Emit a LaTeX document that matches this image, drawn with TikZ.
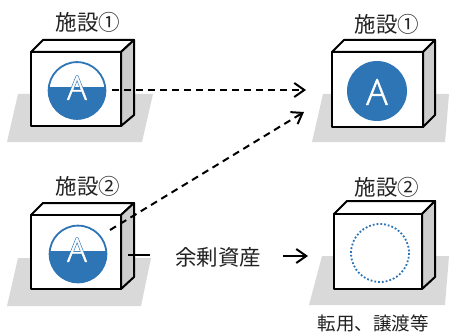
\documentclass[tikz,border=0pt]{standalone}
\usepackage{fontspec}
\usetikzlibrary{arrows.meta}
\setmainfont{Noto Sans CJK JP}
\newfontfamily\latinlight[FakeBold=1.2]{Open Sans Light}
\newfontfamily\latinheavy[FakeBold=5]{Open Sans Light}
\definecolor{wblue}{HTML}{2E75B6}
\definecolor{floorgray}{HTML}{D9D9D9}
\definecolor{sidegray}{HTML}{CDCDCD}
\definecolor{inkdark}{HTML}{222222}
\tikzset{
  x=1pt,y=-1pt,
  boxline/.style={draw=black,line width=2pt,line join=round},
  floorshape/.style={fill=floorgray,draw=none},
  sidefill/.style={fill=sidegray},
  lab/.style={font=\fontsize{21.5}{22}\selectfont,text=inkdark,inner sep=0pt},
  smalllab/.style={font=\fontsize{18.5}{19}\selectfont,text=inkdark,inner sep=0pt},
  dasharrow/.style={draw=black,line width=2pt,dash pattern=on 7pt off 5pt,-{Straight Barb[length=10pt,width=14pt,line width=2pt]}},
  solidarrow/.style={draw=black,line width=2pt,-{Straight Barb[length=10pt,width=14pt,line width=2pt]}},
  alett/.style={inner sep=0pt,text=white,font=\fontsize{33}{33}\selectfont\latinlight},
  aback/.style={inner sep=0pt,text=wblue,font=\fontsize{33}{33}\selectfont\latinheavy},
  abig/.style={inner sep=0pt,text=white,font=\fontsize{36}{36}\selectfont\latinlight},
}
\newcommand{\facility}[8]{% left right top bottom backleft backright backtop backbottom
  \draw[boxline,fill=white] (#1,#3) -- (#5,#7) -- (#6,#7) -- (#2,#3) -- cycle;
  \draw[boxline,sidefill] (#2,#3) -- (#6,#7) -- (#6,#8) -- (#2,#4) -- cycle;
  \draw[boxline,fill=white] (#1,#3) rectangle (#2,#4);
}
\newcommand{\halfdisc}[4]{% cx cy r level
  \begin{scope}
    \clip (#1-#3,#4) rectangle (#1+#3,#2+#3+1);
    \fill[wblue] (#1,#2) circle (#3);
  \end{scope}
  \draw[wblue,line width=1.8pt] (#1,#2) circle (#3-0.6);
}
\begin{document}
\begin{tikzpicture}
\useasboundingbox (0,0) rectangle (449,334);
\fill[white] (0,0) rectangle (449,334);
% floors
\fill[floorshape] (18,94) -- (153,94) -- (142,142) -- (7,142) -- cycle;
\fill[floorshape] (18,258) -- (151,258) -- (141,306) -- (7,306) -- cycle;
\fill[floorshape] (323,94) -- (449,94) -- (445,142) -- (312,142) -- cycle;
\fill[floorshape] (322,256) -- (449,256) -- (445,305) -- (309,305) -- cycle;
% boxes
\facility{31}{121}{52}{126}{43}{134}{40}{115}
\facility{31}{121}{215}{289}{43}{134}{203}{277}
\facility{332}{423}{52}{127}{344}{435}{40}{115}
\facility{334}{422}{214}{289}{347}{435}{201}{277}
% discs
\halfdisc{77}{90.5}{29}{88}
\halfdisc{78}{254}{29}{251}
\fill[wblue] (377,91) circle (30);
\draw[wblue,line width=1.8pt,dash pattern=on 1.8pt off 2pt] (380,253) circle (29);
\node[aback] (a1b) at (77,88) {A};
\node[alett] (a1) at (77,88) {A};
\node[aback] (a2b) at (77,250) {A};
\node[alett] (a2) at (77,250) {A};
\node[abig] (a3) at (377,92) {A};
% labels
\node[lab] (l1) at (88,22) {施設①};
\node[lab] (l2) at (88,186) {施設②};
\node[lab] (l3) at (387,24) {施設①};
\node[lab] (l4) at (387,187) {施設②};
\node[lab] (surplus) at (218,257) {余剰資産};
\node[smalllab] (use) at (373,323) {転用、譲渡等};
% connector ends
\coordinate (s1) at (112,90);
\coordinate (t1) at (306,90);
\coordinate (s2) at (110,230);
\coordinate (t2) at (304,112);
\coordinate (s3) at (128,255);
\coordinate (s3e) at (150,255);
\coordinate (s4) at (283,256);
\coordinate (t4) at (308,256);
\draw[dasharrow] (s1) -- (t1);
\draw[dasharrow] (s2) -- (t2);
\draw[draw=black,line width=2pt] (s3) -- (s3e);
\draw[solidarrow] (s4) -- (t4);
\end{tikzpicture}
\end{document}
